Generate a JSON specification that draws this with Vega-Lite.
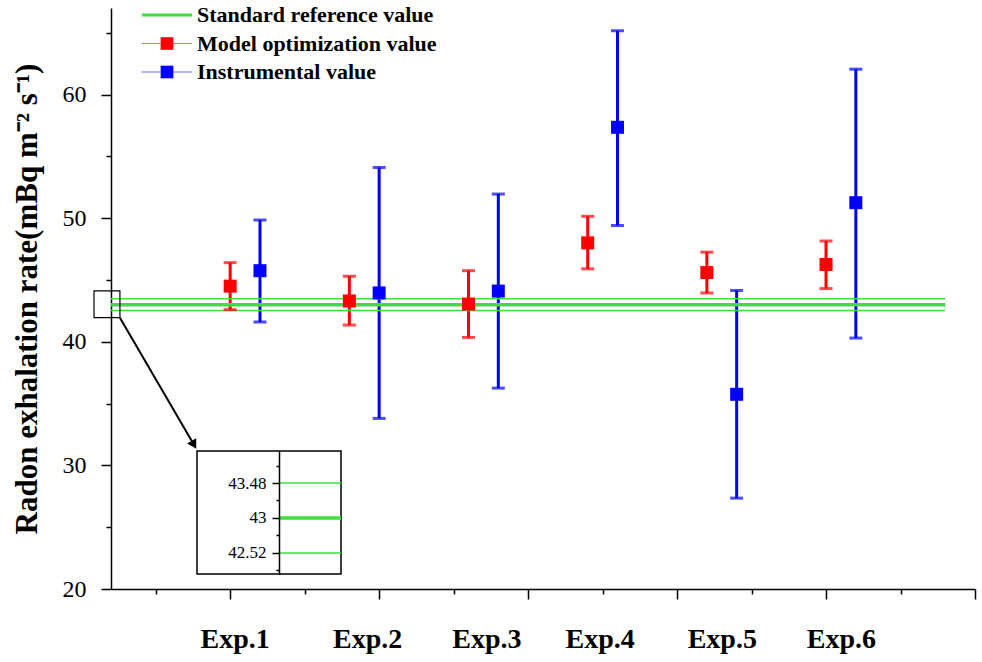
{
  "$schema": "https://vega.github.io/schema/vega-lite/v6.json",
  "width": 864,
  "height": 581,
  "autosize": {"type": "none"},
  "padding": {"left": 111, "top": 8, "right": 7, "bottom": 73},
  "background": "white",
  "config": {
    "view": {"stroke": null},
    "font": "Liberation Serif",
    "axis": {"domainColor": "black", "domainWidth": 1.5, "tickColor": "black", "tickWidth": 1.5, "labelColor": "black", "titleColor": "black", "grid": false}
  },
  "datasets": {
    "measurements": [
      {"experiment": "Exp.1", "series": "Model optimization value", "x": 1.0, "value": 44.5, "low": 42.6, "high": 46.4},
      {"experiment": "Exp.1", "series": "Instrumental value", "x": 1.2, "value": 45.75, "low": 41.6, "high": 49.85},
      {"experiment": "Exp.2", "series": "Model optimization value", "x": 1.8, "value": 43.3, "low": 41.35, "high": 45.3},
      {"experiment": "Exp.2", "series": "Instrumental value", "x": 2.0, "value": 43.95, "low": 33.8, "high": 54.1},
      {"experiment": "Exp.3", "series": "Model optimization value", "x": 2.6, "value": 43.05, "low": 40.35, "high": 45.75},
      {"experiment": "Exp.3", "series": "Instrumental value", "x": 2.8, "value": 44.1, "low": 36.25, "high": 51.95},
      {"experiment": "Exp.4", "series": "Model optimization value", "x": 3.4, "value": 48.0, "low": 45.9, "high": 50.15},
      {"experiment": "Exp.4", "series": "Instrumental value", "x": 3.6, "value": 57.35, "low": 49.4, "high": 65.15},
      {"experiment": "Exp.5", "series": "Model optimization value", "x": 4.2, "value": 45.6, "low": 43.95, "high": 47.25},
      {"experiment": "Exp.5", "series": "Instrumental value", "x": 4.4, "value": 35.75, "low": 27.35, "high": 44.15},
      {"experiment": "Exp.6", "series": "Model optimization value", "x": 5.0, "value": 46.25, "low": 44.3, "high": 48.15},
      {"experiment": "Exp.6", "series": "Instrumental value", "x": 5.2, "value": 51.25, "low": 40.3, "high": 62.05}
    ],
    "reference": [
      {"series": "Standard reference value", "level": "standard", "v": 43},
      {"series": "Standard reference value", "level": "bound", "v": 43.48},
      {"series": "Standard reference value", "level": "bound", "v": 42.52}
    ]
  },
  "layer": [
    {
      "layer": [
        {
          "data": {"name": "measurements"},
          "mark": {"type": "rule", "strokeWidth": 3},
          "encoding": {
            "x": {
              "field": "x", "type": "quantitative",
              "scale": {"domain": [0.2, 6], "nice": false, "zero": false},
              "axis": {
                "orient": "bottom", "title": null, "labels": false,
                "values": [0.5, 1, 1.5, 2, 2.5, 3, 3.5, 4, 4.5, 5, 5.5, 6],
                "tickSize": {"condition": {"test": "datum.value % 1 === 0", "value": 10}, "value": 5}
              }
            },
            "y": {
              "field": "low", "type": "quantitative",
              "scale": {"domain": [20, 67], "nice": false, "zero": false},
              "axis": {
                "orient": "left",
                "values": [20, 25, 30, 35, 40, 45, 50, 55, 60, 65],
                "tickSize": {"condition": {"test": "datum.value % 10 === 0", "value": 10}, "value": 5},
                "labelExpr": "datum.value % 10 === 0 ? datum.label : ''",
                "labelFontSize": 24, "labelPadding": 15,
                "title": "Radon exhalation rate(mBq m⁻² s⁻¹)",
                "titleFontSize": 31, "titleFontWeight": "bold", "titlePadding": 19
              }
            },
            "y2": {"field": "high"},
            "color": {
              "field": "series", "type": "nominal",
              "scale": {"domain": ["Standard reference value", "Model optimization value", "Instrumental value"], "range": ["#3ce03c", "#ff0000", "#0000ff"]},
              "legend": {
                "title": null, "orient": "none", "legendX": 45, "legendY": -4,
                "padding": 0,
                "labelFont": "Liberation Serif", "labelFontSize": 22, "labelFontWeight": "bold", "labelColor": "black",
                "labelLimit": 0,
                "symbolSize": 144, "labelOffset": 19, "rowPadding": 6.5,
                "encode": {
                  "symbols": {
                    "update": {
                      "shape": {"signal": "datum.value === 'Standard reference value' ? 'M-4.2,0H4.2' : 'M-4.2,0H4.2M-1,-1H1V1H-1Z'"},
                      "strokeWidth": {"signal": "datum.value === 'Standard reference value' ? 3 : 1.2"},
                      "fill": {"scale": "color", "field": "value"},
                      "stroke": {"scale": "color", "field": "value"},
                      "strokeOpacity": {"signal": "datum.value === 'Standard reference value' ? 1 : 0.6"},
                      "opacity": {"value": 1}
                    }
                  }
                }
              }
            }
          }
        },
        {
          "data": {"name": "reference"},
          "mark": {"type": "rule"},
          "encoding": {
            "x": {"datum": 0.2, "type": "quantitative", "axis": null},
            "x2": {"datum": 5.8},
            "y": {"field": "v", "type": "quantitative"},
            "color": {"field": "series", "type": "nominal"},
            "strokeWidth": {"field": "level", "type": "nominal", "scale": {"domain": ["standard", "bound"], "range": [3.5, 1.5]}, "legend": null}
          }
        },
        {
          "data": {"name": "measurements"},
          "mark": {"type": "tick", "orient": "horizontal", "thickness": 3, "size": 13},
          "encoding": {
            "x": {"field": "x", "type": "quantitative", "axis": null},
            "y": {"field": "low", "type": "quantitative"},
            "color": {"field": "series", "type": "nominal"}
          }
        },
        {
          "data": {"name": "measurements"},
          "mark": {"type": "tick", "orient": "horizontal", "thickness": 3, "size": 13},
          "encoding": {
            "x": {"field": "x", "type": "quantitative", "axis": null},
            "y": {"field": "high", "type": "quantitative"},
            "color": {"field": "series", "type": "nominal"}
          }
        },
        {
          "data": {"name": "measurements"},
          "mark": {"type": "point", "shape": "square", "filled": true, "size": 169, "opacity": 1},
          "encoding": {
            "x": {
              "field": "x", "type": "quantitative",
              "axis": {
                "orient": "bottom", "title": null, "ticks": false, "domain": false,
                "values": [1.03, 1.92, 2.72, 3.48, 4.3, 5.1],
                "labelExpr": "'Exp.' + (indexof([1.03, 1.92, 2.72, 3.48, 4.3, 5.1], datum.value) + 1)",
                "labelFontSize": 28, "labelFontWeight": "bold", "labelPadding": 36
              }
            },
            "y": {"field": "value", "type": "quantitative"},
            "color": {"field": "series", "type": "nominal"}
          }
        },
        {
          "data": {"values": [{}]},
          "mark": {"type": "rect", "fill": null, "fillOpacity": 0, "stroke": "black", "strokeWidth": 1.2},
          "encoding": {
            "x": {"datum": 0.086, "type": "quantitative", "axis": null},
            "x2": {"datum": 0.26},
            "y": {"datum": 41.95, "type": "quantitative"},
            "y2": {"datum": 44.11}
          }
        },
        {
          "data": {"values": [{}]},
          "mark": {"type": "rule", "color": "black", "strokeWidth": 2},
          "encoding": {
            "x": {"datum": 0.26, "type": "quantitative", "axis": null},
            "x2": {"datum": 0.757},
            "y": {"datum": 41.95, "type": "quantitative"},
            "y2": {"datum": 31.66}
          }
        },
        {
          "data": {"values": [{}]},
          "mark": {"type": "point", "shape": "triangle-down", "filled": true, "color": "black", "size": 110, "angle": 329.4, "opacity": 1},
          "encoding": {
            "x": {"datum": 0.757, "type": "quantitative", "axis": null},
            "y": {"datum": 31.66, "type": "quantitative"}
          }
        }
      ],
      "resolve": {"axis": {"x": "independent"}}
    },
    {
      "layer": [
        {
          "data": {"values": [{}]},
          "mark": {"type": "rect", "fill": "white", "stroke": "black", "strokeWidth": 1.5},
          "encoding": {
            "x": {"datum": 0, "type": "quantitative", "scale": {"domain": [0, 1], "range": [86, 230], "nice": false, "zero": false}, "axis": null},
            "x2": {"datum": 1},
            "y": {
              "datum": 42.23, "type": "quantitative",
              "scale": {"domain": [42.23, 43.92], "range": [566, 443], "nice": false, "zero": false},
              "axis": {
                "orient": "left", "offset": -168, "zindex": 1, "title": null,
                "values": [42.28, 42.52, 42.76, 43, 43.24, 43.48, 43.72],
                "tickSize": {"condition": {"test": "datum.value === 42.52 || datum.value === 43 || datum.value === 43.48", "value": 7}, "value": 3},
                "labelExpr": "datum.value === 43 ? '43' : datum.value === 43.48 ? '43.48' : datum.value === 42.52 ? '42.52' : ''",
                "labelFontSize": 17, "labelPadding": 6
              }
            },
            "y2": {"datum": 43.92}
          }
        },
        {
          "data": {"name": "reference"},
          "mark": {"type": "rule"},
          "encoding": {
            "x": {"datum": 0.57, "type": "quantitative", "axis": null},
            "x2": {"datum": 1},
            "y": {"field": "v", "type": "quantitative"},
            "color": {"field": "series", "type": "nominal"},
            "strokeWidth": {"field": "level", "type": "nominal", "legend": null}
          }
        }
      ]
    }
  ],
  "resolve": {"scale": {"x": "independent", "y": "independent"}}
}
